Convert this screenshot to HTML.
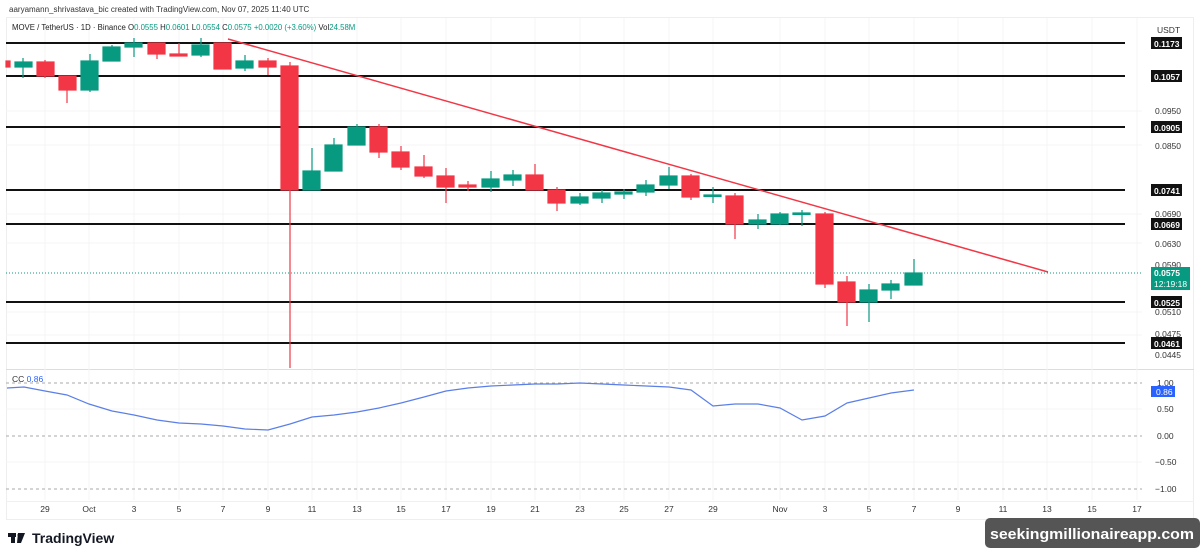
<!DOCTYPE html>
<html><head><meta charset="utf-8"><style>
html,body{margin:0;padding:0;background:#fff;width:1200px;height:558px;overflow:hidden;font-family:"Liberation Sans",sans-serif}
svg{position:absolute;left:0;top:0}
</style></head><body>
<svg width="1200" height="558" viewBox="0 0 1200 558" xmlns="http://www.w3.org/2000/svg" font-family="Liberation Sans, sans-serif">
<rect width="1200" height="558" fill="#fff"/>
<rect x="6.5" y="17.5" width="1187" height="502" fill="none" stroke="#eee"/>
<line x1="6" y1="369.5" x2="1194" y2="369.5" stroke="#ddd"/>
<line x1="6" y1="501.5" x2="1194" y2="501.5" stroke="#f0f0f0"/>
<g stroke="#f4f4f4">
<line x1="45" y1="18" x2="45" y2="500"/><line x1="89" y1="18" x2="89" y2="500"/><line x1="134" y1="18" x2="134" y2="500"/><line x1="179" y1="18" x2="179" y2="500"/><line x1="223" y1="18" x2="223" y2="500"/><line x1="268" y1="18" x2="268" y2="500"/><line x1="312" y1="18" x2="312" y2="500"/><line x1="357" y1="18" x2="357" y2="500"/><line x1="401" y1="18" x2="401" y2="500"/><line x1="446" y1="18" x2="446" y2="500"/><line x1="491" y1="18" x2="491" y2="500"/><line x1="535" y1="18" x2="535" y2="500"/><line x1="580" y1="18" x2="580" y2="500"/><line x1="624" y1="18" x2="624" y2="500"/><line x1="669" y1="18" x2="669" y2="500"/><line x1="713" y1="18" x2="713" y2="500"/><line x1="780" y1="18" x2="780" y2="500"/><line x1="825" y1="18" x2="825" y2="500"/><line x1="869" y1="18" x2="869" y2="500"/><line x1="914" y1="18" x2="914" y2="500"/><line x1="958" y1="18" x2="958" y2="500"/><line x1="1003" y1="18" x2="1003" y2="500"/><line x1="1047" y1="18" x2="1047" y2="500"/><line x1="1092" y1="18" x2="1092" y2="500"/><line x1="1137" y1="18" x2="1137" y2="500"/>
</g>
<g stroke="#f4f4f4">
<line x1="6" y1="111" x2="1142" y2="111"/><line x1="6" y1="145" x2="1142" y2="145"/><line x1="6" y1="214" x2="1142" y2="214"/><line x1="6" y1="243" x2="1142" y2="243"/><line x1="6" y1="312" x2="1142" y2="312"/><line x1="6" y1="335" x2="1142" y2="335"/>
<line x1="6" y1="409" x2="1142" y2="409"/><line x1="6" y1="462" x2="1142" y2="462"/>
</g>
<text x="9" y="12" font-size="8" fill="#333">aaryamann_shrivastava_bic created with TradingView.com, Nov 07, 2025 11:40 UTC</text>
<text x="12" y="30" font-size="7.8" fill="#222">MOVE / TetherUS · 1D · Binance  <tspan>O</tspan><tspan fill="#089981">0.0555</tspan>  H<tspan fill="#089981">0.0601</tspan>  L<tspan fill="#089981">0.0554</tspan>  C<tspan fill="#089981">0.0575</tspan>  <tspan fill="#089981">+0.0020 (+3.60%)</tspan>  Vol<tspan fill="#089981">24.58M</tspan></text>
<g stroke="#111" stroke-width="2">
<line x1="6" y1="43" x2="1125" y2="43"/><line x1="6" y1="76" x2="1125" y2="76"/><line x1="6" y1="127" x2="1125" y2="127"/><line x1="6" y1="190" x2="1125" y2="190"/><line x1="6" y1="224" x2="1125" y2="224"/><line x1="6" y1="302" x2="1125" y2="302"/><line x1="6" y1="343" x2="1125" y2="343"/>
</g>
<line x1="6" y1="273" x2="1142" y2="273" stroke="#089981" stroke-width="1" stroke-dasharray="1,2"/>
<g stroke-width="1.2">
<g fill="#f23645" stroke="#f23645">
<rect x="6" y="61" width="4" height="6"/>
<line x1="45" y1="60" x2="45" y2="78"/><rect x="37" y="62" width="17" height="14"/>
<line x1="67" y1="76" x2="67" y2="103"/><rect x="59" y="76" width="17" height="14"/>
<line x1="157" y1="43" x2="157" y2="59"/><rect x="148" y="43" width="17" height="11"/>
<line x1="179" y1="43" x2="179" y2="56"/><rect x="170" y="54" width="17" height="2"/>
<line x1="223" y1="43" x2="223" y2="69"/><rect x="214" y="43" width="17" height="26"/>
<line x1="268" y1="58" x2="268" y2="75"/><rect x="259" y="61" width="17" height="6"/>
<line x1="290" y1="62" x2="290" y2="368"/><rect x="281" y="66" width="17" height="124"/>
<line x1="379" y1="124" x2="379" y2="158"/><rect x="370" y="127" width="17" height="25"/>
<line x1="401" y1="146" x2="401" y2="170"/><rect x="392" y="152" width="17" height="15"/>
<line x1="424" y1="155" x2="424" y2="178"/><rect x="415" y="167" width="17" height="9"/>
<line x1="446" y1="168" x2="446" y2="203"/><rect x="437" y="176" width="17" height="11"/>
<line x1="468" y1="181" x2="468" y2="191"/><rect x="459" y="185" width="17" height="2"/>
<line x1="535" y1="164" x2="535" y2="190"/><rect x="526" y="175" width="17" height="15"/>
<line x1="557" y1="187" x2="557" y2="211"/><rect x="548" y="190" width="17" height="13"/>
<line x1="691" y1="174" x2="691" y2="200"/><rect x="682" y="176" width="17" height="21"/>
<line x1="735" y1="193" x2="735" y2="239"/><rect x="726" y="196" width="17" height="28"/>
<line x1="825" y1="212" x2="825" y2="288"/><rect x="816" y="214" width="17" height="70"/>
<line x1="847" y1="276" x2="847" y2="326"/><rect x="838" y="282" width="17" height="20"/>
</g>
<g fill="#089981" stroke="#089981">
<line x1="23" y1="58" x2="23" y2="78"/><rect x="15" y="62" width="17" height="5"/>
<line x1="90" y1="54" x2="90" y2="92"/><rect x="81" y="61" width="17" height="29"/>
<line x1="112" y1="45" x2="112" y2="61"/><rect x="103" y="47" width="17" height="14"/>
<line x1="134" y1="38" x2="134" y2="57"/><rect x="125" y="43" width="17" height="4"/>
<line x1="201" y1="38" x2="201" y2="57"/><rect x="192" y="45" width="17" height="10"/>
<line x1="245" y1="55" x2="245" y2="71"/><rect x="236" y="61" width="17" height="7"/>
<line x1="312" y1="148" x2="312" y2="190"/><rect x="303" y="171" width="17" height="19"/>
<line x1="334" y1="138" x2="334" y2="171"/><rect x="325" y="145" width="17" height="26"/>
<line x1="357" y1="124" x2="357" y2="145"/><rect x="348" y="127" width="17" height="18"/>
<line x1="491" y1="171" x2="491" y2="192"/><rect x="482" y="179" width="17" height="8"/>
<line x1="513" y1="170" x2="513" y2="186"/><rect x="504" y="175" width="17" height="5"/>
<line x1="580" y1="193" x2="580" y2="205"/><rect x="571" y="197" width="17" height="6"/>
<line x1="602" y1="190" x2="602" y2="203"/><rect x="593" y="193" width="17" height="5"/>
<line x1="624" y1="189" x2="624" y2="199"/><rect x="615" y="192" width="17" height="2"/>
<line x1="646" y1="180" x2="646" y2="196"/><rect x="637" y="185" width="17" height="7"/>
<line x1="669" y1="167" x2="669" y2="189"/><rect x="660" y="176" width="17" height="9"/>
<line x1="713" y1="187" x2="713" y2="203"/><rect x="704" y="195" width="17" height="1.5"/>
<line x1="758" y1="214" x2="758" y2="229"/><rect x="749" y="220" width="17" height="4"/>
<line x1="780" y1="212" x2="780" y2="225"/><rect x="771" y="214" width="17" height="10"/>
<line x1="802" y1="210" x2="802" y2="226"/><rect x="793" y="213" width="17" height="1.5"/>
<line x1="869" y1="284" x2="869" y2="322"/><rect x="860" y="290" width="17" height="12"/>
<line x1="891" y1="280" x2="891" y2="299"/><rect x="882" y="284" width="17" height="6"/>
<line x1="914" y1="259" x2="914" y2="285"/><rect x="905" y="273" width="17" height="12"/>
</g>
</g>
<line x1="228" y1="39" x2="1048" y2="272" stroke="#f23645" stroke-width="1.5"/>
<text x="1157" y="33" font-size="8.5" fill="#333">USDT</text>
<g font-size="8.5" fill="#333">
<text x="1155" y="114">0.0950</text><text x="1155" y="149">0.0850</text><text x="1155" y="217">0.0690</text><text x="1155" y="247">0.0630</text><text x="1155" y="268">0.0590</text><text x="1155" y="315">0.0510</text><text x="1155" y="337">0.0475</text><text x="1155" y="358">0.0445</text>
</g>
<g>
<rect x="1151" y="37" width="31" height="12" fill="#111"/><rect x="1151" y="70" width="31" height="12" fill="#111"/><rect x="1151" y="121" width="31" height="12" fill="#111"/><rect x="1151" y="184" width="31" height="12" fill="#111"/><rect x="1151" y="218" width="31" height="12" fill="#111"/><rect x="1151" y="296" width="31" height="12" fill="#111"/><rect x="1151" y="337" width="31" height="12" fill="#111"/>
<rect x="1151" y="267" width="39" height="23" fill="#089981"/>
</g>
<g font-size="8.5" fill="#fff" font-weight="bold">
<text x="1154" y="47">0.1173</text><text x="1154" y="80">0.1057</text><text x="1154" y="131">0.0905</text><text x="1154" y="194">0.0741</text><text x="1154" y="228">0.0669</text><text x="1154" y="306">0.0525</text><text x="1154" y="347">0.0461</text>
<text x="1154" y="276">0.0575</text><text x="1154" y="287" font-weight="normal">12:19:18</text>
</g>
<g stroke="#aaa" stroke-dasharray="3,3">
<line x1="6" y1="383" x2="1142" y2="383"/><line x1="6" y1="436" x2="1142" y2="436"/><line x1="6" y1="489" x2="1142" y2="489"/>
</g>
<text x="12" y="382" font-size="8.5" fill="#333">CC <tspan fill="#2962ff">0.86</tspan></text>
<polyline fill="none" stroke="#5b7fe8" stroke-width="1.2" points="7,388 24,387 45,391 67,395 89,404 112,411 134,415 157,420 179,423 201,424 223,426 245,429 268,430 290,424 312,417 334,415 357,412 379,408 401,403 424,397 446,391 468,388 491,386 513,385 535,384 557,384 580,383 602,384 624,385 646,386 669,387 691,390 713,406 735,404 758,404 780,408 802,420 825,416 847,403 869,398 891,393 914,390"/>
<g font-size="8.5" fill="#333">
<text x="1157" y="386">1.00</text><text x="1157" y="412">0.50</text><text x="1157" y="439">0.00</text><text x="1155" y="465">−0.50</text><text x="1155" y="492">−1.00</text>
</g>
<rect x="1151" y="386" width="24" height="11" fill="#2962ff"/>
<text x="1156" y="395" font-size="8.5" fill="#fff">0.86</text>
<g font-size="8.5" fill="#333" text-anchor="middle">
<text x="45" y="512">29</text><text x="89" y="512">Oct</text><text x="134" y="512">3</text><text x="179" y="512">5</text><text x="223" y="512">7</text><text x="268" y="512">9</text><text x="312" y="512">11</text><text x="357" y="512">13</text><text x="401" y="512">15</text><text x="446" y="512">17</text><text x="491" y="512">19</text><text x="535" y="512">21</text><text x="580" y="512">23</text><text x="624" y="512">25</text><text x="669" y="512">27</text><text x="713" y="512">29</text><text x="780" y="512">Nov</text><text x="825" y="512">3</text><text x="869" y="512">5</text><text x="914" y="512">7</text><text x="958" y="512">9</text><text x="1003" y="512">11</text><text x="1047" y="512">13</text><text x="1092" y="512">15</text><text x="1137" y="512">17</text>
</g>
<g fill="#131722">
<rect x="8" y="533" width="8" height="4"/><rect x="11" y="533" width="4" height="10"/>
<polygon points="18,533 25,533 21,543 17,543"/><circle cx="19" cy="535" r="1.5"/>
</g>
<text x="32" y="543" font-size="14" font-weight="bold" fill="#131722">TradingView</text>
<rect x="985" y="518" width="215" height="30" rx="5" fill="#555"/>
<text x="990" y="539" font-size="15" font-weight="bold" fill="#fff" textLength="204" lengthAdjust="spacingAndGlyphs">seekingmillionaireapp.com</text>
</svg>
</body></html>
